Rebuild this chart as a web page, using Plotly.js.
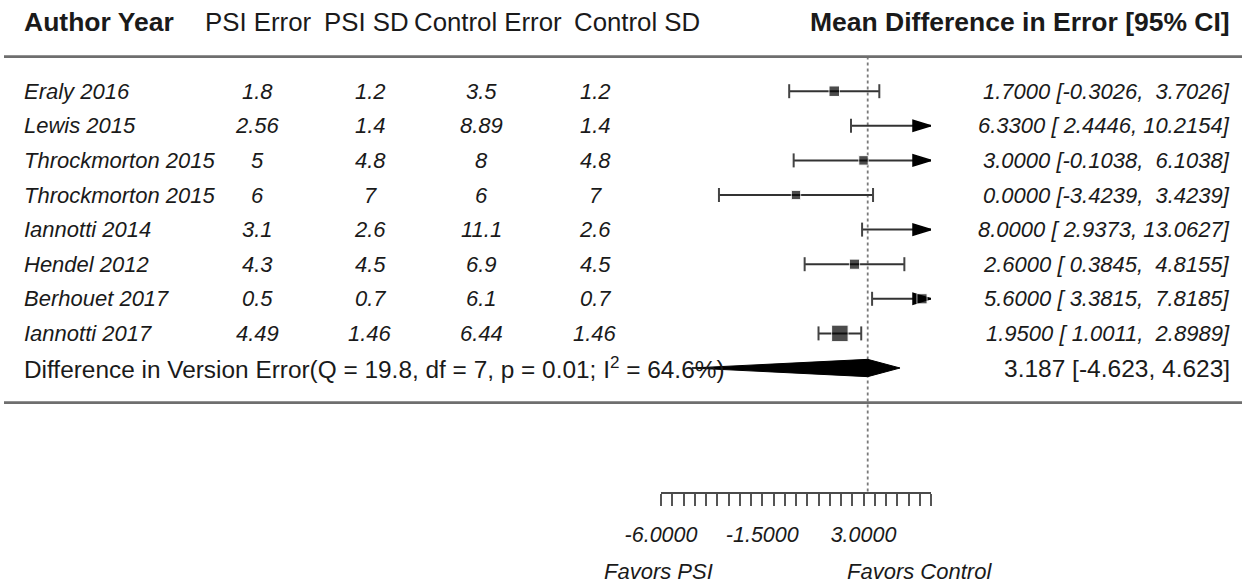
<!DOCTYPE html>
<html>
<head>
<meta charset="utf-8">
<script src="https://cdn.plot.ly/plotly-3.0.1.min.js"></script>
<style>
  html, body { margin: 0; padding: 0; background: #ffffff; }
  #chart { width: 1242px; height: 585px; }
</style>
</head>
<body>
<div id="chart"></div>
<script>
// ---------------- data ----------------
const studies = ['Eraly 2016', 'Lewis 2015', 'Throckmorton 2015', 'Throckmorton 2015',
                 'Iannotti 2014', 'Hendel 2012', 'Berhouet 2017', 'Iannotti 2017'];
const psiError     = [1.8, 2.56, 5, 6, 3.1, 4.3, 0.5, 4.49];
const psiSD        = [1.2, 1.4, 4.8, 7, 2.6, 4.5, 0.7, 1.46];
const controlError = [3.5, 8.89, 8, 6, 11.1, 6.9, 6.1, 6.44];
const controlSD    = [1.2, 1.4, 4.8, 7, 2.6, 4.5, 0.7, 1.46];
const meanDiff     = [1.7, 6.33, 3.0, 0.0, 8.0, 2.6, 5.6, 1.95];
const ciLower      = [-0.3026, 2.4446, -0.1038, -3.4239, 2.9373, 0.3845, 3.3815, 1.0011];
const ciUpper      = [3.7026, 10.2154, 6.1038, 3.4239, 13.0627, 4.8155, 7.8185, 2.8989];

const summaryLabel = 'Difference in Version Error(Q = 19.8, df = 7, p = 0.01; I<sup>2</sup> = 64.6%)';
const summaryEst   = 3.187;
const summaryLower = -4.623;
const summaryUpper = 4.623;
const summaryText  = '3.187 [-4.623, 4.623]';

const headers = ['Author Year', 'PSI Error', 'PSI SD', 'Control Error', 'Control SD',
                 'Mean Difference in Error [95% CI]'];
const axisTicks = [-6, -5.5, -5, -4.5, -4, -3.5, -3, -2.5, -2, -1.5, -1, -0.5, 0,
                   0.5, 1, 1.5, 2, 2.5, 3, 3.5, 4, 4.5, 5, 5.5, 6];
const labeledTicks    = [-6, -1.5, 3];
const labeledTickText = ['-6.0000', '-1.5000', '3.0000'];
const favorLabels = ['Favors PSI', 'Favors Control'];

// ---------------- layout constants ----------------
const W = 1242, H = 585;
const px = v => v / W;
const FONT = 'Liberation Sans, Arial, Helvetica, sans-serif';
const TXT = '#1a1a1a';
const axisMin = -6, axisMax = 6;
const yMin = -2.584, yMax = 11.636;
const headerY = 11, topLineY = 10, bottomLineY = 0, summaryY = 1;
const n = studies.length;
const rowY = studies.map((_, i) => n + 1 - i);
const colX = { label: 22, psiE: 257, psiS: 370, conE: 481, conS: 595, right: 1232 };
const headerX = [22, 203, 322, 412, 572, 1232];
const diamondHalf = 0.25;
const arrowLen = 0.8, arrowHalf = 0.16;

// formatting helpers
const nb = '\u00a0';
const pad = (s, w) => nb.repeat(Math.max(0, w - s.length)) + s;
const ciText = studies.map((_, i) =>
  meanDiff[i].toFixed(4) + ' [' + pad(ciLower[i].toFixed(4), 7) + ',' + nb + pad(ciUpper[i].toFixed(4), 7) + ']');

// marker sizes from inverse-variance weights
const weights = ciLower.map((lb, i) => { const se = (ciUpper[i] - lb) / 3.92; return 1 / (se * se); });
const wMin = Math.min(...weights), wMax = Math.max(...weights);
const pSize = weights.map(w => 9 + 7.5 * (w - wMin) / (wMax - wMin));

// ---------------- traces ----------------
const traces = [];

// reference (dotted) line at the pooled estimate
traces.push({
  x: [summaryEst, summaryEst], y: [topLineY, yMin], mode: 'lines',
  line: { color: '#7a7a7a', width: 1.8, dash: 'dot' }, hoverinfo: 'skip', showlegend: false
});

// CI segments
const ciX = [], ciY = [];
studies.forEach((_, i) => { ciX.push(ciLower[i], ciUpper[i], null); ciY.push(rowY[i], rowY[i], null); });
traces.push({ x: ciX, y: ciY, mode: 'lines', line: { color: '#333333', width: 2 },
  hoverinfo: 'skip', showlegend: false });

// CI end caps
traces.push({
  x: ciLower.concat(ciUpper), y: rowY.concat(rowY), mode: 'markers',
  marker: { symbol: 'line-ns', size: 10, line: { color: '#444444', width: 2 } },
  hoverinfo: 'skip', showlegend: false
});

// arrows where the CI leaves the axis
const arX = [], arY = [];
studies.forEach((_, i) => {
  if (ciUpper[i] > axisMax) {
    arX.push(axisMax, axisMax - arrowLen, axisMax - arrowLen, axisMax, null);
    arY.push(rowY[i], rowY[i] + arrowHalf, rowY[i] - arrowHalf, rowY[i], null);
  }
});
traces.push({ x: arX, y: arY, mode: 'lines', fill: 'toself', fillcolor: '#000',
  line: { color: '#000', width: 1.5 }, hoverinfo: 'skip', showlegend: false });

// point estimates
traces.push({
  x: meanDiff, y: rowY, mode: 'markers',
  marker: { symbol: 'square', size: pSize, color: '#000' },
  hoverinfo: 'skip', showlegend: false
});

// pooled diamond
traces.push({
  x: [summaryLower, summaryEst, summaryUpper, summaryEst, summaryLower],
  y: [summaryY, summaryY + diamondHalf, summaryY, summaryY - diamondHalf, summaryY],
  mode: 'lines', fill: 'toself', fillcolor: '#000', line: { color: '#000', width: 1 },
  hoverinfo: 'skip', showlegend: false
});

// ---------------- annotations ----------------
const ann = [];
const addText = (text, xPix, y, anchor, font) => ann.push({
  text, x: px(xPix), xref: 'paper', y, yref: 'y', xanchor: anchor, yanchor: 'middle',
  showarrow: false, font: Object.assign({ family: FONT, color: TXT }, font)
});

// header
addText(headers[0], headerX[0], headerY, 'left', { size: 26.5, weight: 'bold' });
for (let j = 1; j <= 4; j++) addText(headers[j], headerX[j], headerY, 'left', { size: 25.8 });
addText(headers[5], headerX[5], headerY, 'right', { size: 26.5, weight: 'bold' });

// rows
const it = { size: 22, style: 'italic' };
studies.forEach((s, i) => {
  addText(s, colX.label, rowY[i], 'left', it);
  addText(String(psiError[i]), colX.psiE, rowY[i], 'center', it);
  addText(String(psiSD[i]), colX.psiS, rowY[i], 'center', it);
  addText(String(controlError[i]), colX.conE, rowY[i], 'center', it);
  addText(String(controlSD[i]), colX.conS, rowY[i], 'center', it);
  addText(ciText[i], colX.right, rowY[i], 'right', it);
});

// summary row
addText(summaryLabel, colX.label, summaryY, 'left', { size: 24.4 });
addText(summaryText, colX.right, summaryY, 'right', { size: 24.5 });

// favours labels
const favX = [602, 845];
favorLabels.forEach((t, j) => ann.push({
  text: t, x: px(favX[j]), xref: 'paper', y: -0.1626, yref: 'paper',
  xanchor: 'left', yanchor: 'middle', showarrow: false,
  font: { family: FONT, color: TXT, size: 22, style: 'italic' }
}));

// ---------------- layout ----------------
const layout = {
  width: W, height: H,
  margin: { l: 0, r: 0, t: 0, b: 93, pad: 0 },
  paper_bgcolor: '#ffffff', plot_bgcolor: 'rgba(0,0,0,0)',
  showlegend: false,
  xaxis: {
    domain: [px(661), px(931)], range: [axisMin, axisMax],
    showgrid: false, zeroline: false, showline: true, linecolor: '#4a4a4a', linewidth: 2,
    ticks: 'outside', ticklen: 12, tickwidth: 2, tickcolor: '#555555',
    tickmode: 'array', tickvals: labeledTicks, ticktext: labeledTickText,
    minor: { tickmode: 'array', tickvals: axisTicks, ticks: 'outside', ticklen: 12,
             tickwidth: 2, tickcolor: '#555555', showgrid: false },
    ticklabelstandoff: 10,
    tickfont: { family: FONT, size: 21.5, color: TXT, style: 'italic' },
    fixedrange: true
  },
  yaxis: {
    domain: [0, 1], range: [yMin, yMax], visible: false, fixedrange: true
  },
  shapes: [topLineY, bottomLineY].map(yv => ({
    type: 'line', xref: 'paper', yref: 'y', x0: px(4), x1: 1, y0: yv, y1: yv,
    line: { color: '#6e6e6e', width: 2.8 }
  })),
  annotations: ann
};

Plotly.newPlot('chart', traces, layout, { staticPlot: true, displayModeBar: false });
</script>
</body>
</html>
